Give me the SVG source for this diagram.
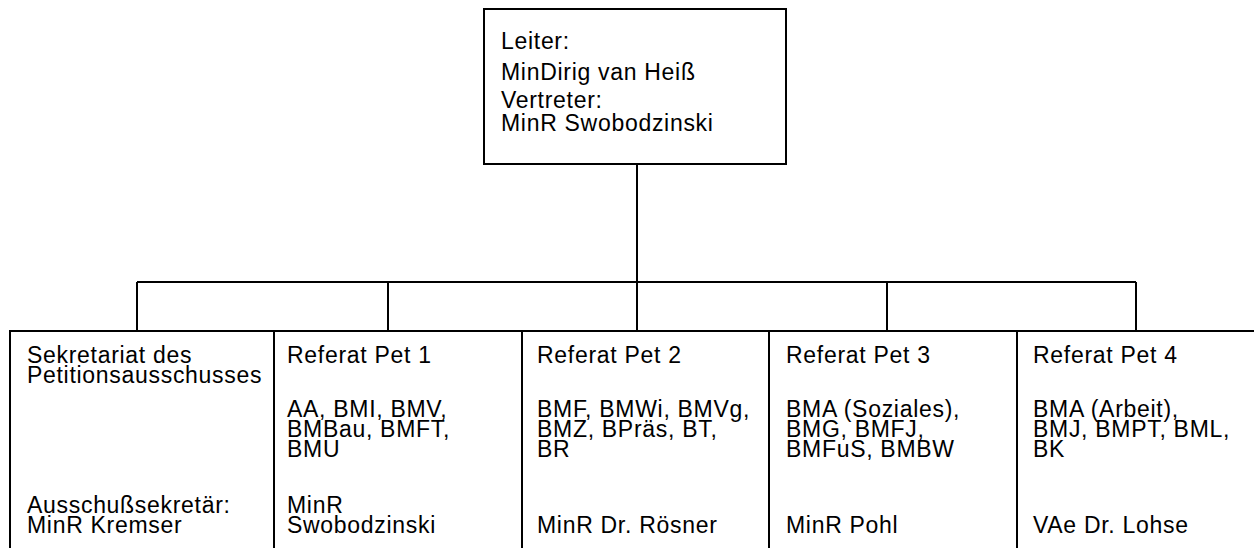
<svg xmlns="http://www.w3.org/2000/svg" width="1254" height="548" viewBox="0 0 1254 548">
<style>
.box{fill:#fff;stroke:#000;stroke-width:2}
.ln{fill:none;stroke:#000;stroke-width:2}
text{font-family:"Liberation Sans",Arial,sans-serif;font-size:23px;fill:#000;letter-spacing:0.7px}
</style>
<rect width="1254" height="548" fill="#fff"/>
<g id="connectors">
<path class="ln" d="M637 164V282M137 282H1136M137 282V331M388 282V331M637 282V331M887 282V331M1136 282V331"/>
</g>
<g id="leiter">
<rect class="box" x="484" y="9" width="302" height="155"/>
<text x="501" y="49">Leiter:</text>
<text x="501" y="80">MinDirig van Heiß</text>
<text x="501" y="108">Vertreter:</text>
<text x="501" y="131">MinR Swobodzinski</text>
</g>
<g id="bottom-frame">
<path class="ln" d="M10 548V331H1254"/>
</g>
<g id="sekretariat">
<text x="27" y="363">Sekretariat des</text>
<text x="27" y="383">Petitionsausschusses</text>
<text x="27" y="513">Ausschußsekretär:</text>
<text x="27" y="533">MinR Kremser</text>
</g>
<g id="pet1">
<path class="ln" d="M274 331V548"/>
<text x="287" y="363">Referat Pet 1</text>
<text x="287" y="417">AA, BMI, BMV,</text>
<text x="287" y="437">BMBau, BMFT,</text>
<text x="287" y="457">BMU</text>
<text x="287" y="513">MinR</text>
<text x="287" y="533">Swobodzinski</text>
</g>
<g id="pet2">
<path class="ln" d="M522 331V548"/>
<text x="537" y="363">Referat Pet 2</text>
<text x="537" y="417">BMF, BMWi, BMVg,</text>
<text x="537" y="437">BMZ, BPräs, BT,</text>
<text x="537" y="457">BR</text>
<text x="537" y="533">MinR Dr. Rösner</text>
</g>
<g id="pet3">
<path class="ln" d="M769 331V548"/>
<text x="786" y="363">Referat Pet 3</text>
<text x="786" y="417">BMA (Soziales),</text>
<text x="786" y="437">BMG, BMFJ,</text>
<text x="786" y="457">BMFuS, BMBW</text>
<text x="786" y="533">MinR Pohl</text>
</g>
<g id="pet4">
<path class="ln" d="M1017 331V548"/>
<text x="1033" y="363">Referat Pet 4</text>
<text x="1033" y="417">BMA (Arbeit),</text>
<text x="1033" y="437">BMJ, BMPT, BML,</text>
<text x="1033" y="457">BK</text>
<text x="1033" y="533">VAe Dr. Lohse</text>
</g>
</svg>
